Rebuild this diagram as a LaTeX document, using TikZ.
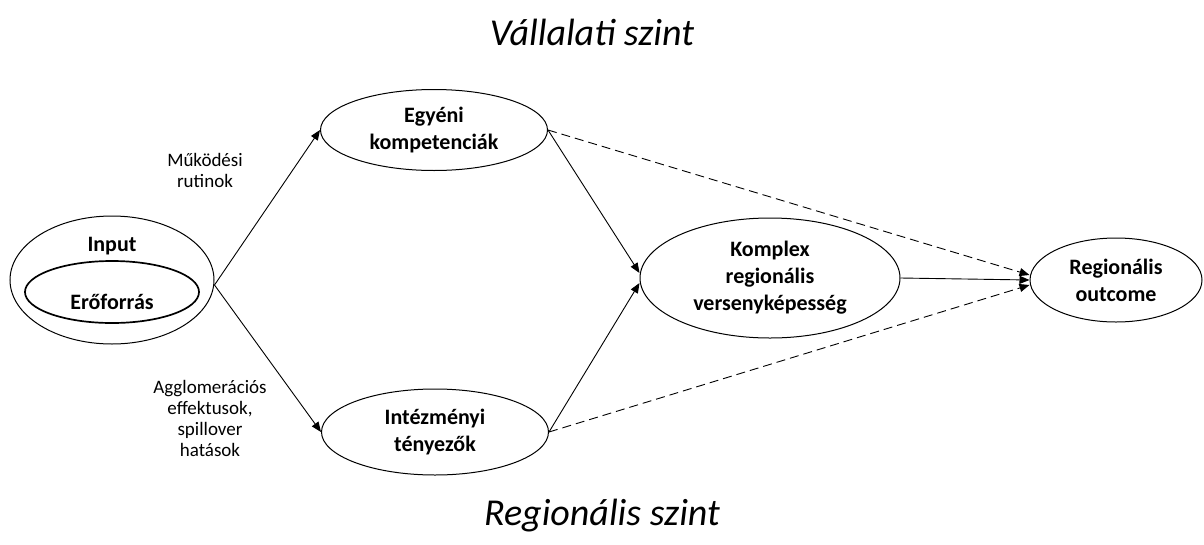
\documentclass[tikz,border=0pt]{standalone}
\usepackage{fontspec}
\setmainfont{Carlito}
\usetikzlibrary{shapes.geometric,arrows.meta}
\tikzset{
  oval/.style={draw,ellipse,line width=1pt,inner sep=0pt,align=center,font=\fontsize{22}{27}\selectfont\bfseries},
  lbl/.style={align=center,font=\fontsize{19}{21}\selectfont},
  ttl/.style={font=\fontsize{38}{44}\selectfont\itshape},
  arr/.style={line width=0.9pt,-{Triangle[length=10pt,width=8pt]}},
  darr/.style={arr,dash pattern=on 9pt off 5pt}
}
\begin{document}
\begin{tikzpicture}[x=1pt,y=-1pt]
\useasboundingbox (0,0) rectangle (1204,544);
\node[ttl] (t1) at (592,32) {Vállalati szint};
\node[ttl] (t2) at (602,516) {Regionális szint};
\node[draw,ellipse,line width=1pt,minimum width=204pt,minimum height=128pt] (in) at (112,280) {};
\node[draw,ellipse,line width=1.7pt,minimum width=174pt,minimum height=62pt] (er) at (112,292) {};
\node[font=\fontsize{22}{27}\selectfont\bfseries] (inl) at (112,246) {Input};
\node[font=\fontsize{22}{27}\selectfont\bfseries] (erl) at (112,302) {Erőforrás};
\node[oval,minimum width=227pt,minimum height=81pt] (eg) at (434,130) {Egyéni\\kompetenciák};
\node[oval,minimum width=227pt,minimum height=86pt] (it) at (435,432) {Intézményi\\tényezők};
\node[oval,minimum width=260pt,minimum height=120pt] (kp) at (770,278) {Komplex\\regionális\\versenyképesség};
\node[oval,minimum width=172pt,minimum height=84pt] (out) at (1116,280) {Regionális\\outcome};
\node[lbl] (l1) at (205,170) {Működési\\rutinok};
\node[lbl] (l2) at (210,418) {Agglomerációs\\effektusok,\\spillover\\hatások};
\draw[arr] ([yshift=-5pt]in.east) -- (eg.west);
\draw[arr] ([yshift=-5pt]in.east) -- (it.west);
\draw[arr] (eg.east) -- ([yshift=5pt]kp.west);
\draw[arr] (it.east) -- ([yshift=-5pt]kp.west);
\draw[arr] (kp.east) -- (out.west);
\draw[darr] (eg.east) -- ([yshift=5pt]out.west);
\draw[darr] (it.east) -- ([yshift=-5pt]out.west);
\end{tikzpicture}
\end{document}
